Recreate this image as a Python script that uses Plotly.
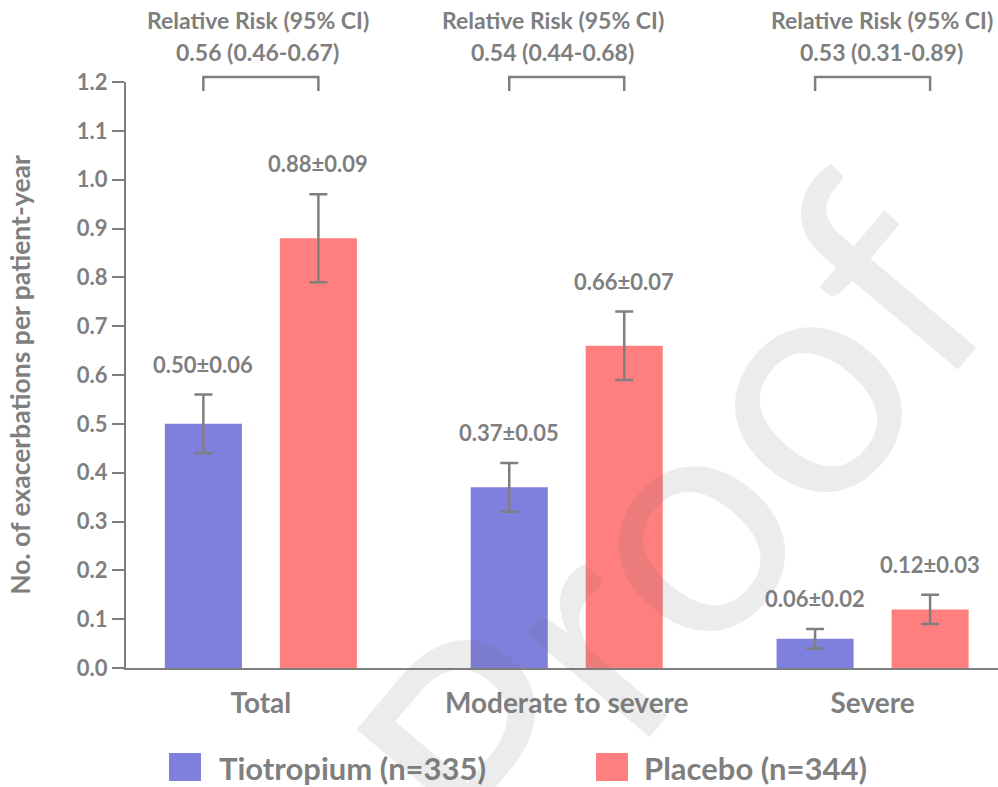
import plotly.graph_objects as go

categories = ["Total", "Moderate to severe", "Severe"]
tiotropium = [0.50, 0.37, 0.06]
tiotropium_err = [0.06, 0.05, 0.02]
placebo = [0.88, 0.66, 0.12]
placebo_err = [0.09, 0.07, 0.03]
rr_labels = ["0.56 (0.46-0.67)", "0.54 (0.44-0.68)", "0.53 (0.31-0.89)"]
series_names = ["Tiotropium (n=335)", "Placebo (n=344)"]
y_ticks = [round(i * 0.1, 1) for i in range(13)]

BLUE = "#7f7fdd"
RED = "#ff7f7f"
GRAY = "#7f7f7f"
FONT = "Lato"

BARGAP = 0.248
XMIN, XMAX = -0.441, 2.41
OFF = (1 - BARGAP) / 4  # bar centre offset in category units
RR_SHIFT = [-3, -14, 9]

fig = go.Figure()
for name, vals, errs, col in [(series_names[0], tiotropium, tiotropium_err, BLUE),
                              (series_names[1], placebo, placebo_err, RED)]:
    fig.add_trace(go.Bar(
        x=categories, y=vals, name=name, marker=dict(color=col, line=dict(width=0)),
        error_y=dict(type="data", array=errs, visible=True, color=GRAY, thickness=2.5, width=9),
        showlegend=False,
    ))

annotations = []
shapes = []
for i, cat in enumerate(categories):
    for sgn, vals, errs in [(-1, tiotropium, tiotropium_err), (1, placebo, placebo_err)]:
        annotations.append(dict(
            x=i + sgn * OFF, y=vals[i] + errs[i], xref="x", yref="y",
            text=f"{vals[i]:.2f}±{errs[i]:.2f}", showarrow=False,
            yanchor="bottom", yshift=15,
            font=dict(family=FONT, size=22, color=GRAY, weight="bold"),
        ))
    # bracket
    shapes.append(dict(
        type="path", xref="x", yref="paper",
        path=f"M {i-OFF} 0.9846 L {i-OFF} 1.0085 L {i+OFF} 1.0085 L {i+OFF} 0.9846",
        line=dict(color=GRAY, width=2.5),
    ))
    annotations.append(dict(
        x=i, y=1.1058, xref="x", yref="paper", text="Relative Risk (95% CI)",
        showarrow=False, yanchor="middle", xanchor="center", xshift=RR_SHIFT[i],
        font=dict(family=FONT, size=23, color=GRAY, weight="bold"),
    ))
    annotations.append(dict(
        x=i, y=1.0512, xref="x", yref="paper", text=rr_labels[i],
        showarrow=False, yanchor="middle", xanchor="center", xshift=RR_SHIFT[i],
        font=dict(family=FONT, size=23, color=GRAY, weight="bold"),
    ))

# legend (drawn manually for large swatches)
legend_items = [(series_names[0], BLUE, 0.0493, 0.104), (series_names[1], RED, 0.539, 0.592)]
for name, col, sx, tx in legend_items:
    shapes.append(dict(type="rect", xref="paper", yref="paper",
                       x0=sx, x1=sx + 0.0367, y0=-0.193, y1=-0.145,
                       fillcolor=col, line=dict(width=0)))
    annotations.append(dict(x=tx, y=-0.1706, xref="paper", yref="paper", text=name,
                            showarrow=False, xanchor="left", yanchor="middle",
                            font=dict(family=FONT, size=31, color=GRAY, weight="bold")))

# watermark
annotations.append(dict(x=0.62, y=0.245, xref="paper", yref="paper", text="Proof",
                        showarrow=False, textangle=-50, xanchor="center", yanchor="middle",
                        font=dict(family=FONT, size=320, color="rgba(110,110,110,0.13)")))

fig.update_layout(
    width=998, height=787,
    margin=dict(l=126, r=0, t=82, b=119),
    paper_bgcolor="white", plot_bgcolor="white",
    barmode="group", bargap=BARGAP, bargroupgap=0.33,
    shapes=shapes, annotations=annotations,
    xaxis=dict(range=[XMIN, XMAX], showline=True, linecolor=GRAY, linewidth=2.2,
               ticks="", showgrid=False, zeroline=False, ticklabelstandoff=9,
               tickfont=dict(family=FONT, size=28, color=GRAY, weight="bold")),
    yaxis=dict(range=[0, 1.2], tickvals=y_ticks, ticktext=[f"{v:.1f}" for v in y_ticks],
               showline=True, linecolor=GRAY, linewidth=2.2, ticks="outside", ticklen=12,
               tickwidth=2.2, tickcolor=GRAY, showgrid=False, zeroline=False,
               tickfont=dict(family=FONT, size=22, color=GRAY, weight="bold"),
               title=dict(text="No. of exacerbations per patient-year", standoff=38,
                          font=dict(family=FONT, size=26.5, color=GRAY, weight="bold"))),
    font=dict(family=FONT, color=GRAY),
)

fig.write_html(
    "out.html",
    config={"displayModeBar": False},
    post_script="document.body.style.margin='0';document.body.style.overflow='hidden';",
)
